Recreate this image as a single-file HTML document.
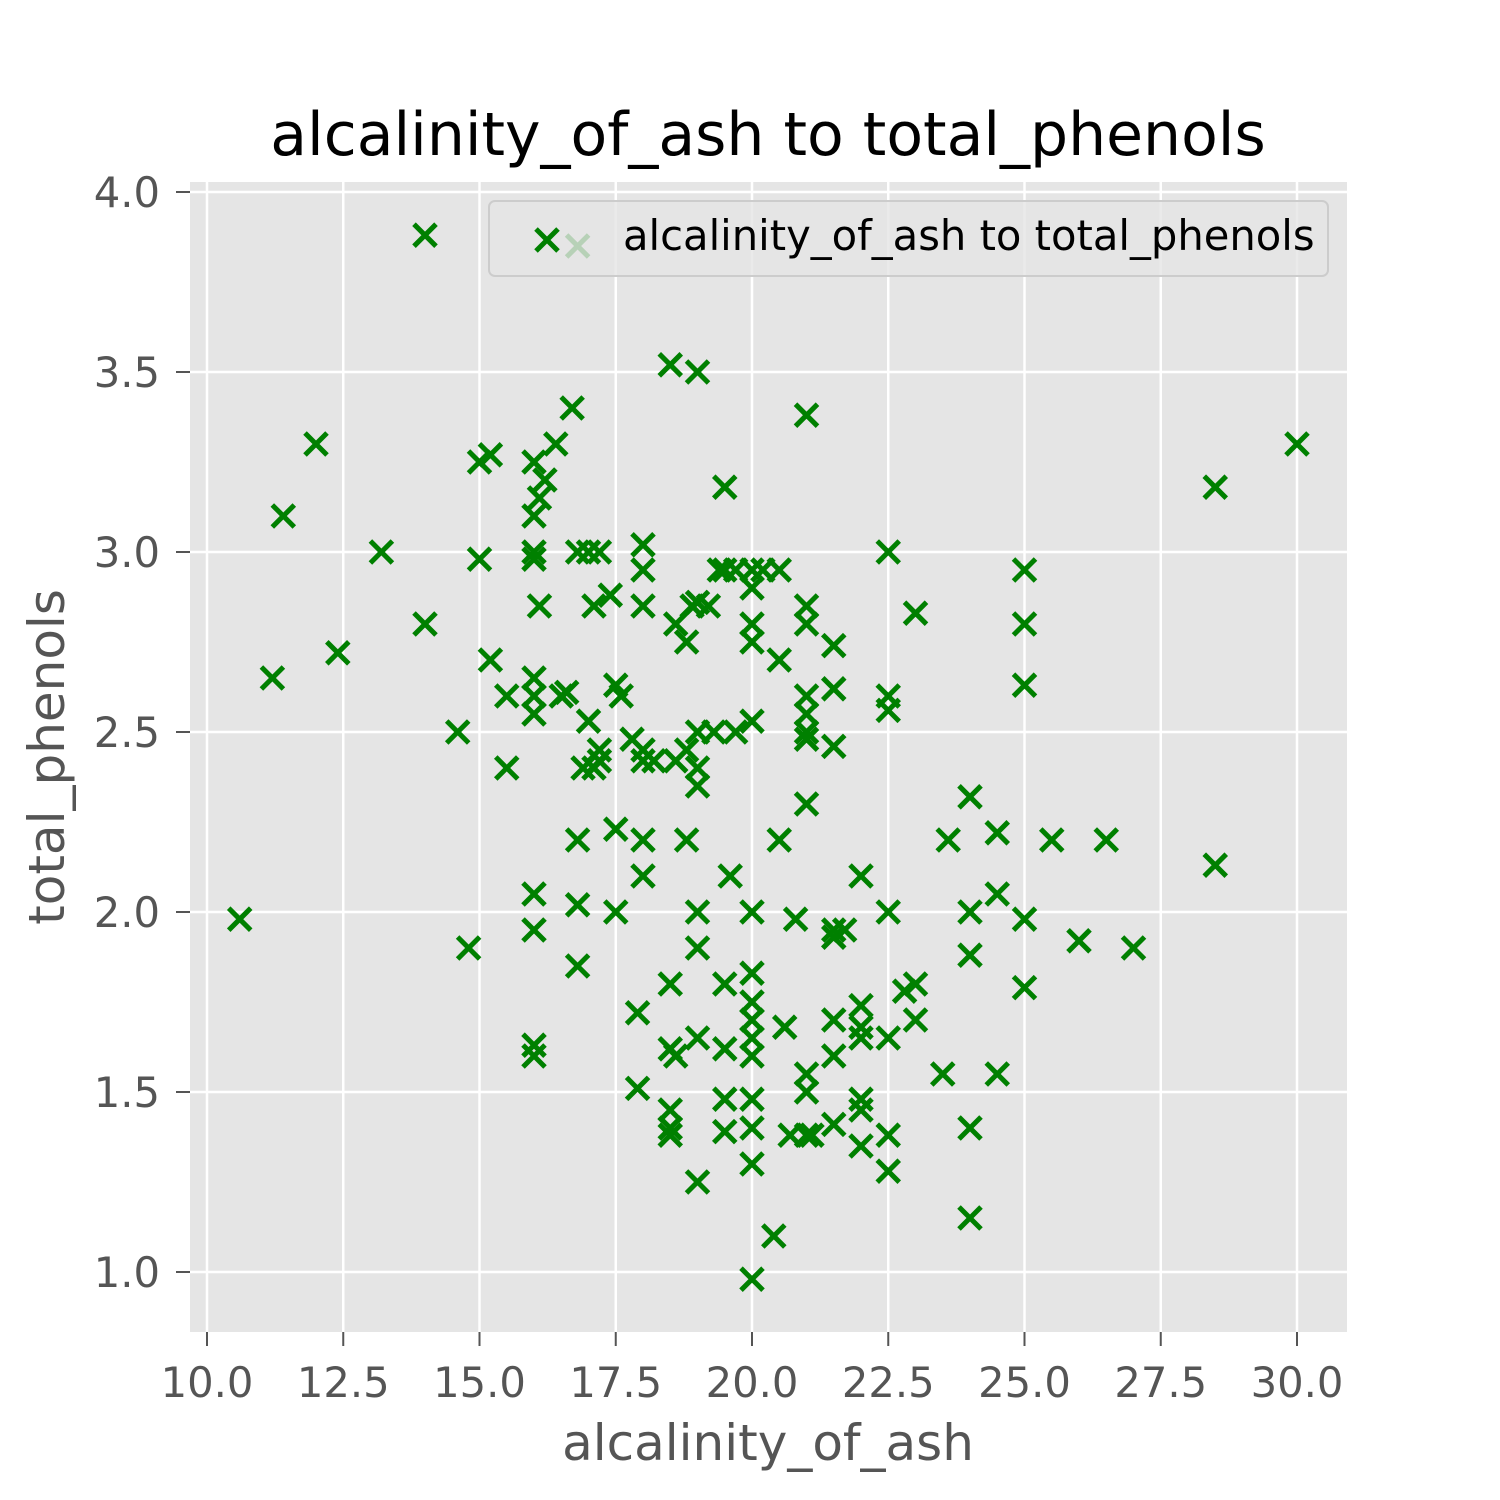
<!DOCTYPE html>
<html><head><meta charset="utf-8"><style>
html,body{margin:0;padding:0;background:#fff;}
svg{display:block;font-family:"DejaVu Sans","Liberation Sans",sans-serif;}
</style></head><body>
<svg id="chart" width="1500" height="1500" viewBox="0 0 1500 1500">
<rect x="0" y="0" width="1500" height="1500" fill="#fff"/>
<rect x="190" y="182" width="1157" height="1150" fill="#e5e5e5"/>
<g id="grid"></g>
<g id="ticks"></g>
<g id="points"></g>
<g>
<rect x="489" y="201" width="839" height="75" rx="6" fill="#e5e5e5" fill-opacity="0.8" stroke="#cccccc" stroke-width="2"/>
<g stroke="#008000" stroke-width="5"><line x1="536" y1="229" x2="558" y2="251"/><line x1="536" y1="251" x2="558" y2="229"/></g>
<text x="623" y="250" font-size="41.7" fill="#000">alcalinity_of_ash to total_phenols</text>
</g>
<text x="768" y="155" font-size="60" text-anchor="middle" fill="#000">alcalinity_of_ash to total_phenols</text>
<text x="768" y="1460" font-size="50" text-anchor="middle" fill="#555">alcalinity_of_ash</text>
<text transform="translate(64,757) rotate(-90)" font-size="50" text-anchor="middle" fill="#555">total_phenols</text>
</svg>
<script>
const xTicks=[10,12.5,15,17.5,20,22.5,25,27.5,30];
const yTicks=[1,1.5,2,2.5,3,3.5,4];
const alcalinity=[10.6,11.2,11.4,12,12.4,13.2,14,14,14.6,14.8,15,15,15.2,15.2,15.5,15.5,16,16,16,16,16.1,16,16,16,16,16,16,16,16.1,16.2,16.4,16.5,16.6,16.7,16.8,16.8,16.8,16.8,17,17,16.9,17.2,17.1,17.2,17.2,17.1,17.4,17.5,17.6,17.5,17.5,17.8,18,18,18,18,18,18,18,17.9,17.9,18.2,18.5,18.6,18.6,18.8,18.8,18.8,18.5,18.5,18.6,18.5,18.5,18.5,19,19,18.9,19,19,19,19,19,19,19,19.2,19.3,19.4,19.5,19.5,19.5,19.5,19.5,19.5,19.7,19.6,19.7,20,20,20,20,20,20,20,20,20,20,20,20,20,20,20,20.2,20.4,20.5,20.5,20.5,20.6,20.8,20.7,21,21,21,21,21,21,21,21,21,21,21.1,21,21.5,21.5,21.5,21.5,21.5,21.5,21.5,21.5,21.7,22,22,22,22,22,22,22,22.5,22.5,22.5,22.5,22.5,22.5,22.5,22.8,23,23,23,23.5,23.6,24,24,24,24,24,24.5,24.5,24.5,25,25,25,25,25,25.5,26,26.5,27,28.5,28.5,30,16.8];
const phenols=[1.98,2.65,3.1,3.3,2.72,3.0,2.8,3.88,2.5,1.9,3.25,2.98,3.27,2.7,2.6,2.4,3.25,3.1,3.0,2.98,2.85,2.65,2.6,2.55,2.05,1.95,1.63,1.6,3.15,3.2,3.3,2.6,2.61,3.4,3.0,2.2,2.02,1.85,3.0,2.53,2.4,3.0,2.85,2.45,2.42,2.4,2.88,2.63,2.6,2.23,2.0,2.48,3.02,2.95,2.85,2.45,2.42,2.2,2.1,1.72,1.51,2.42,3.52,2.8,2.42,2.45,2.75,2.2,1.8,1.62,1.6,1.45,1.4,1.38,3.5,2.86,2.85,2.5,2.4,2.35,2.0,1.9,1.65,1.25,2.85,2.5,2.95,2.95,3.18,1.8,1.62,1.48,1.39,2.5,2.1,2.95,2.95,2.9,2.8,2.75,2.53,2.0,1.83,1.75,1.7,1.65,1.6,1.48,1.4,1.3,0.98,2.95,1.1,2.2,2.7,2.95,1.68,1.98,1.38,3.38,2.85,2.8,2.6,2.55,2.5,2.48,2.3,1.55,1.5,1.38,1.38,2.74,2.62,2.46,1.95,1.93,1.7,1.6,1.41,1.95,2.1,1.74,1.68,1.65,1.48,1.45,1.35,3.0,2.6,2.56,2.0,1.65,1.38,1.28,1.78,2.83,1.8,1.7,1.55,2.2,2.32,2.0,1.88,1.4,1.15,2.22,2.05,1.55,2.95,2.8,2.63,1.98,1.79,2.2,1.92,2.2,1.9,3.18,2.13,3.3,3.85];
const NS='http://www.w3.org/2000/svg';
const xS=v=>207+(v-10)*54.5;
const yS=v=>1272-(v-1)*360;
function mk(t,a,p){const e=document.createElementNS(NS,t);for(const k in a)e.setAttribute(k,a[k]);p.appendChild(e);return e;}
const grid=document.getElementById('grid'),ticks=document.getElementById('ticks'),pts=document.getElementById('points');
xTicks.forEach(v=>{const x=xS(v);
const g=mk('line',{x1:x,x2:x,y1:182,y2:1332,stroke:'#fff','stroke-width':2.5},grid);


const t=mk('line',{x1:x,x2:x,y1:1332,y2:1346,stroke:'#555','stroke-width':2},ticks);


const l=mk('text',{x:x,y:1397,'font-size':41.7,'text-anchor':'middle',fill:'#555'},ticks);l.textContent=v.toFixed(1);


});
yTicks.forEach(v=>{const y=yS(v);
const g=mk('line',{x1:190,x2:1347,y1:y,y2:y,stroke:'#fff','stroke-width':2.5},grid);


const t=mk('line',{x1:176,x2:190,y1:y,y2:y,stroke:'#555','stroke-width':2},ticks);


const l=mk('text',{x:160,y:y+15,'font-size':41.7,'text-anchor':'end',fill:'#555'},ticks);l.textContent=v.toFixed(1);


});
alcalinity.forEach((a,i)=>{const x=xS(a),y=yS(phenols[i]),r=11;
const g=mk('g',{stroke:'#008000','stroke-width':5},pts);


mk('line',{x1:x-r,y1:y-r,x2:x+r,y2:y+r},g);mk('line',{x1:x-r,y1:y+r,x2:x+r,y2:y-r},g);
});
</script>
</body></html>
